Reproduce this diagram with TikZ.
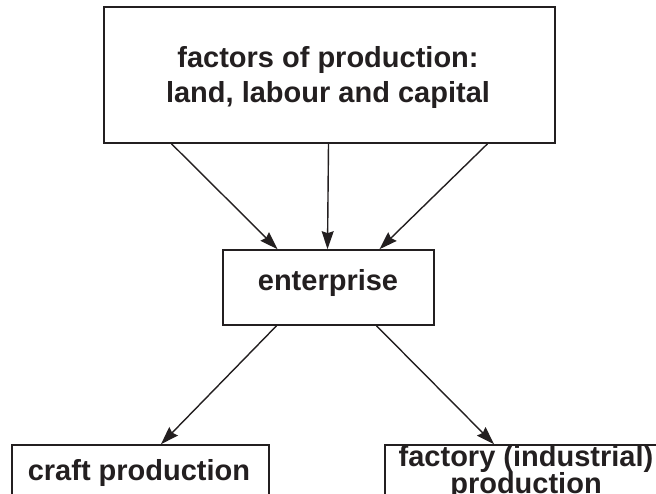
\documentclass[tikz,border=0pt]{standalone}
\usepackage{fontspec}
\setmainfont{Liberation Sans}
\usetikzlibrary{arrows.meta,calc}
\definecolor{ink}{HTML}{231F20}
\begin{document}
\begin{tikzpicture}[x=1pt,y=-1pt,
  box/.style={draw=ink,line width=1.6pt,inner sep=0pt,rectangle},
  txt/.style={inner sep=0pt,anchor=base,text=ink,font=\bfseries\fontsize{29}{30}\selectfont},
  arr/.style={draw=ink,line width=1.4pt,-{Stealth[length=18pt,width=12pt,inset=2pt]}}]
\useasboundingbox (0,0) rectangle (656,494);
\clip (0,0) rectangle (656,494);
\node[box,minimum width=451pt,minimum height=136pt] (top) at (329.5,75) {};
\node[box,minimum width=211pt,minimum height=75pt] (ent) at (328.5,287.5) {};
\node[box,minimum width=257pt,minimum height=110pt] (craft) at (140.5,500) {};
\node[box,minimum width=282pt,minimum height=110pt] (fact) at (526,500) {};
\node[txt] (t1) at (328,68) {factors of production:};
\node[txt] (t2) at (328,103) {land, labour and capital};
\node[txt] (te) at (328,291) {enterprise};
\node[txt] (tc) at (139,480) {craft production};
\node[txt] (tf1) at (526,466) {factory (industrial)};
\node[txt] (tf2) at (526,493) {production};
\draw[arr] ([xshift=-158pt]top.south) -- ([xshift=-51pt]ent.north);
\draw[arr] ([xshift=-1pt]top.south) -- ([xshift=-1pt]ent.north);
\draw[arr] ([xshift=158pt]top.south) -- ([xshift=51pt]ent.north);
\draw[arr] ([xshift=-52pt]ent.south) -- ([xshift=20.5pt]craft.north);
\draw[arr] ([xshift=48pt]ent.south) -- ([xshift=-32pt]fact.north);
\end{tikzpicture}
\end{document}
